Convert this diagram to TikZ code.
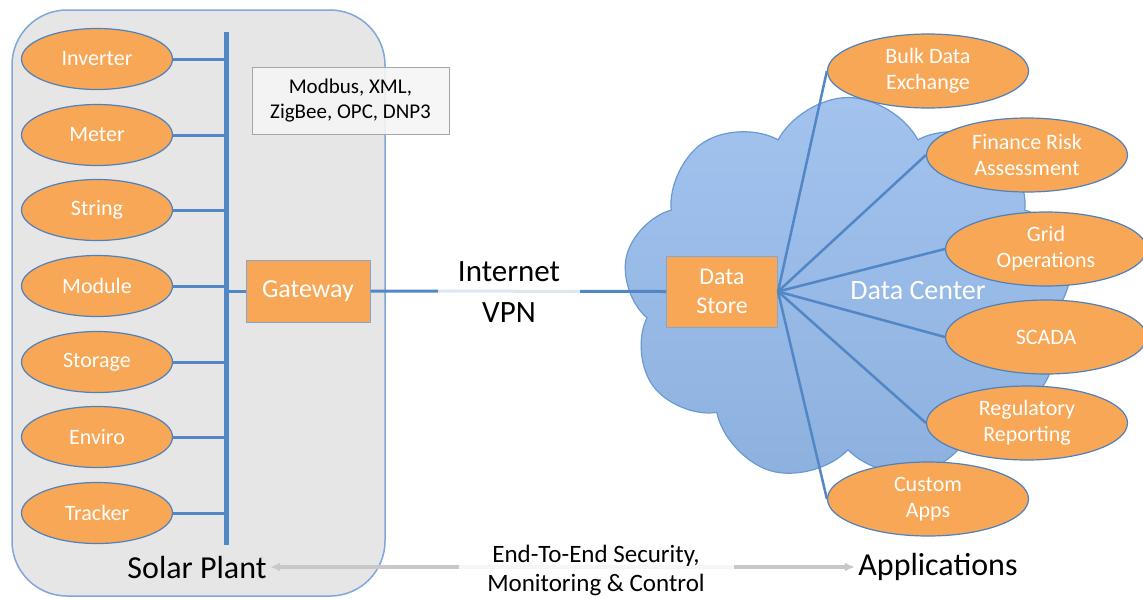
\documentclass[tikz,border=0pt]{standalone}
\usepackage{fontspec}
\setmainfont{Carlito}
\usetikzlibrary{shapes.geometric,shapes.symbols,arrows.meta}
\definecolor{orng}{HTML}{F7A756}
\definecolor{edgeblue}{HTML}{4F81BD}
\definecolor{wireblue}{HTML}{5287C5}
\definecolor{plantfill}{HTML}{E6E6E6}
\definecolor{plantedge}{HTML}{7FA7DA}
\definecolor{cloudtop}{HTML}{A3C3EE}
\definecolor{cloudbot}{HTML}{8DB1DF}
\definecolor{cloudedge}{HTML}{6A9AD2}
\definecolor{arrowgray}{HTML}{C8C8C8}
\begin{document}
\begin{tikzpicture}[x=1pt,y=-1pt,
  dev/.style={ellipse, fill=orng, draw=edgeblue, line width=1.2pt, minimum width=151pt, minimum height=61pt, inner sep=0pt, text=white, align=center, font=\fontsize{22}{26}\selectfont},
  app/.style={dev, minimum width=201pt, minimum height=74pt},
  obox/.style={rectangle, fill=orng, draw=edgeblue!70, line width=1pt, text=white, inner sep=0pt, align=center},
  wire/.style={draw=wireblue, line width=3pt},
  fan/.style={draw=wireblue, line width=2.5pt},
  biglabel/.style={font=\fontsize{32}{38}\selectfont, text=black},
]
\useasboundingbox (0,0) rectangle (1143,598);
\clip (0,0) rectangle (1143,598);

% Solar plant container
\node[draw=plantedge, fill=plantfill, line width=1.5pt, rounded corners=55pt,
      minimum width=373pt, minimum height=586pt, inner sep=0pt] (plant) at (198.5,303) {};

% Cloud
\node[cloud, cloud puffs=9, cloud puff arc=125, aspect=1.17, draw=cloudedge, line width=1.2pt,
      top color=cloudtop, bottom color=cloudbot, minimum width=450pt, minimum height=385pt, inner sep=0pt] (cloud) at (848,290) {};
\node[text=white, font=\fontsize{28}{32}\selectfont] (dc) at (918,291) {Data Center};

% Bus
\coordinate (bt) at (226,32);
\coordinate (bb) at (226,545);

% Devices
\node[dev] (inv) at (97,59) {Inverter};
\node[dev] (met) at (97,135) {Meter};
\node[dev] (str) at (97,210) {String};
\node[dev] (mod) at (97,286) {Module};
\node[dev] (sto) at (97,362) {Storage};
\node[dev] (env) at (97,437) {Enviro};
\node[dev] (trk) at (97,513) {Tracker};

\foreach \n in {inv,met,str,mod,sto,env,trk}
  \draw[wire] (\n.east) -- (\n.east -| bt);

\draw[draw=wireblue, line width=5pt] (bt) -- (bb);

% Gateway
\node[obox, minimum width=124pt, minimum height=62pt, font=\fontsize{26}{30}\selectfont] (gw) at (308,291) {Gateway};
\draw[wire] (gw.west) -- (gw.west -| bt);

% Protocol box
\node[draw=gray!70, fill=white!96!black, fill opacity=0.9, text opacity=1, line width=1pt,
      minimum width=197pt, minimum height=67pt, inner sep=0pt, align=center,
      font=\fontsize{21}{25}\selectfont] (proto) at (350.5,100.5) {Modbus, XML,\\ZigBee, OPC, DNP3};

% Data store
\node[obox, minimum width=111pt, minimum height=71pt, font=\fontsize{24}{29}\selectfont] (ds) at (722,291.5) {Data\\Store};

% Internet link
\draw[wire] (gw.east) -- (ds.west);
\node[fill=white, fill opacity=0.8, text opacity=1, minimum width=142pt, inner sep=0pt, align=center,
      font=\fontsize{31}{41}\selectfont] (inet) at (509,292.5) {Internet\\VPN};

% Applications
\node[app] (bulk) at (928,71) {Bulk Data\\Exchange};
\node[app] (fin) at (1027,155) {Finance Risk\\Assessment};
\node[app] (grid) at (1046,249) {Grid\\Operations};
\node[app] (scada) at (1046,337) {SCADA};
\node[app] (reg) at (1027,423) {Regulatory\\Reporting};
\node[app] (cust) at (928,499) {Custom\\Apps};

\foreach \n in {bulk,fin,grid,scada,reg,cust}
  \draw[fan] (ds.east) -- (\n.west);

% Bottom labels
\node[biglabel] (sp) at (197,567) {Solar Plant};
\node[biglabel] (ap) at (938,567) {Applications};
\draw[draw=arrowgray, line width=3.5pt, {Latex[length=10pt,width=9pt]}-{Latex[length=10pt,width=9pt]}] (sp.east) -- (ap.west);
\node[fill=white, fill opacity=0.85, text opacity=1, minimum width=275pt, inner sep=2pt, align=center,
      font=\fontsize{25}{29}\selectfont] (e2e) at (596,570.5) {End-To-End Security,\\Monitoring \& Control};
\end{tikzpicture}
\end{document}
